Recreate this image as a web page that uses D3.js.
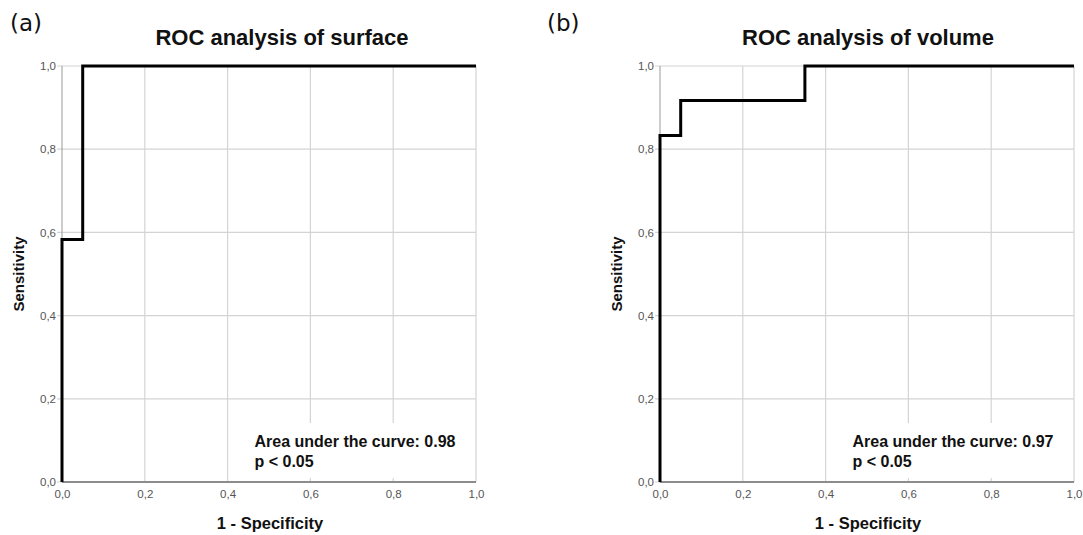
<!DOCTYPE html>
<html>
<head>
<meta charset="utf-8">
<title>ROC analysis</title>
<script src="https://cdn.jsdelivr.net/npm/d3@7/dist/d3.min.js"></script>
<style>
  body { margin: 0; background: #fff; }
  svg { display: block; }
</style>
</head>
<body>
<div id="chart"></div>
<script>
// data
var panelLetters = ["(a)", "(b)"];
var panelTitles = ["ROC analysis of surface", "ROC analysis of volume"];
var aucLabels = ["Area under the curve: 0.98", "Area under the curve: 0.97"];
var pLabel = "p < 0.05";
var xTitle = "1 - Specificity";
var yTitle = "Sensitivity";
var ticks = [0, 0.2, 0.4, 0.6, 0.8, 1.0];

// ROC step points (1 - specificity, sensitivity)
var surfaceFpr = [0, 0, 0.05, 0.05, 1];
var surfaceTpr = [0, 0.583, 0.583, 1, 1];
var volumeFpr = [0, 0, 0.05, 0.05, 0.35, 0.35, 1];
var volumeTpr = [0, 0.833, 0.833, 0.917, 0.917, 1, 1];

var W = 1083, H = 535;
var svg = d3.select("#chart").append("svg").attr("width", W).attr("height", H);

var fmt = function(d) { return d3.format(".1f")(d).replace(".", ","); };

var panels = [
  { left: 62, right: 476, letterX: 10, titleX: 282, fpr: surfaceFpr, tpr: surfaceTpr },
  { left: 660, right: 1074, letterX: 547, titleX: 868, fpr: volumeFpr, tpr: volumeTpr }
];

var plotTop = 66, plotBottom = 482;

panels.forEach(function(p, i) {
  var x = d3.scaleLinear().domain([0, 1]).range([p.left, p.right]);
  var y = d3.scaleLinear().domain([0, 1]).range([plotBottom, plotTop]);
  var g = svg.append("g");
  var mid = (p.left + p.right) / 2;

  // letter
  g.append("text").attr("x", p.letterX).attr("y", 31)
    .attr("font-family", "DejaVu Sans").attr("font-size", 23).attr("fill", "#111")
    .text(panelLetters[i]);

  // title
  g.append("text").attr("x", p.titleX).attr("y", 45).attr("text-anchor", "middle")
    .attr("font-family", "Liberation Sans, Arial").attr("font-weight", "bold")
    .attr("font-size", 22).attr("fill", "#111")
    .text(panelTitles[i]);

  // grid
  g.selectAll(".hg").data(ticks).enter().append("line")
    .attr("x1", p.left - 5).attr("x2", p.right)
    .attr("y1", function(d) { return y(d); }).attr("y2", function(d) { return y(d); })
    .attr("stroke", "#d4d4d4").attr("stroke-width", 1.2);
  g.selectAll(".vg").data(ticks.slice(1)).enter().append("line")
    .attr("x1", function(d) { return x(d); }).attr("x2", function(d) { return x(d); })
    .attr("y1", plotTop).attr("y2", plotBottom)
    .attr("stroke", "#d4d4d4").attr("stroke-width", 1.2);

  // y axis line
  g.append("line").attr("x1", p.left).attr("x2", p.left).attr("y1", plotTop).attr("y2", plotBottom)
    .attr("stroke", "#999").attr("stroke-width", 1);

  // white box behind annotation
  g.append("rect").attr("x", x(0.46)).attr("y", 423)
    .attr("width", x(0.99) - x(0.46)).attr("height", 55).attr("fill", "#fff");

  // x axis line
  g.append("line").attr("x1", p.left).attr("x2", p.right).attr("y1", plotBottom).attr("y2", plotBottom)
    .attr("stroke", "#8c8c8c").attr("stroke-width", 2);

  // tick labels
  var xa = g.append("g").attr("transform", "translate(0," + plotBottom + ")")
    .call(d3.axisBottom(x).tickValues(ticks).tickFormat(fmt).tickSize(0).tickPadding(8));
  var ya = g.append("g").attr("transform", "translate(" + (p.left - 6) + ",0)")
    .call(d3.axisLeft(y).tickValues(ticks).tickFormat(fmt).tickSize(0).tickPadding(0));
  [xa, ya].forEach(function(a) {
    a.select(".domain").remove();
    a.selectAll("text").attr("font-family", "Liberation Sans, Arial")
      .attr("font-size", 11.5).attr("fill", "#555");
  });

  // ROC curve
  var pts = p.fpr.map(function(v, k) { return [v, p.tpr[k]]; });
  g.append("path").datum(pts)
    .attr("d", d3.line().x(function(d) { return x(d[0]); }).y(function(d) { return y(d[1]); }))
    .attr("fill", "none").attr("stroke", "#000").attr("stroke-width", 3)
    .attr("stroke-linejoin", "miter");

  // annotation
  var ax = x(0.465);
  g.append("text").attr("x", ax).attr("y", 447)
    .attr("font-family", "Liberation Sans, Arial").attr("font-weight", "bold")
    .attr("font-size", 16).attr("fill", "#111").text(aucLabels[i]);
  g.append("text").attr("x", ax).attr("y", 467)
    .attr("font-family", "Liberation Sans, Arial").attr("font-weight", "bold")
    .attr("font-size", 16).attr("fill", "#111").text(pLabel);

  // axis titles
  g.append("text").attr("x", mid + 1).attr("y", 529).attr("text-anchor", "middle")
    .attr("font-family", "Liberation Sans, Arial").attr("font-weight", "bold")
    .attr("font-size", 16.5).attr("fill", "#111").text(xTitle);
  g.append("text")
    .attr("transform", "translate(" + (p.left - 38) + "," + ((plotTop + plotBottom) / 2) + ") rotate(-90)")
    .attr("text-anchor", "middle")
    .attr("font-family", "Liberation Sans, Arial").attr("font-weight", "bold")
    .attr("font-size", 15).attr("fill", "#111").text(yTitle);
});
</script>
</body>
</html>
